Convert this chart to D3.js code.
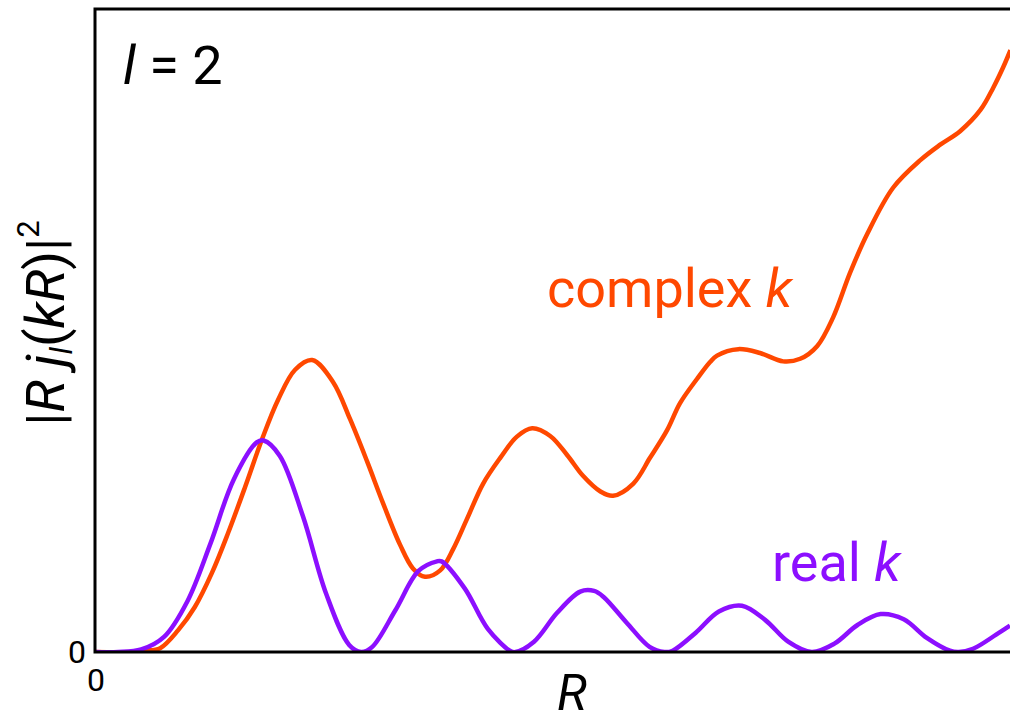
<!DOCTYPE html>
<html>
<head>
<meta charset="utf-8">
<script src="https://cdn.jsdelivr.net/npm/d3@7"></script>
<style>
  body { margin: 0; background: #fff; }
  text { font-family: Roboto, "Noto Sans", sans-serif; }
</style>
</head>
<body>
<svg id="chart" width="1010" height="725"></svg>
<script>
// real k curve
const realR = [0, 0.5, 1, 1.5, 2, 2.5, 3, 3.5, 3.65, 4, 4.5, 5, 5.5, 5.76, 6, 6.5, 7, 7.4, 7.5, 8, 8.5, 9, 9.1,
  9.5, 10, 10.5, 10.8, 11, 11.5, 12, 12.32, 12.5, 13, 13.5, 14, 14.5, 15, 15.51, 16, 16.5, 17, 17.5, 18, 18.5, 18.69, 19, 19.5, 19.8];
const realVal = [0, 0, 0.004, 0.024, 0.079, 0.169, 0.268, 0.326, 0.329, 0.305, 0.211, 0.091, 0.011, 0, 0.008, 0.065, 0.126, 0.141, 0.141, 0.099, 0.036, 0.001, 0,
  0.016, 0.061, 0.094, 0.095, 0.086, 0.046, 0.008, 0, 0.002, 0.030, 0.063, 0.072, 0.050, 0.016, 0, 0.013, 0.042, 0.059, 0.051, 0.022, 0.002, 0, 0.005, 0.027, 0.041];

// complex k curve
const complexR = [0, 0.76, 1.08, 1.41, 1.8, 2.16, 2.53, 2.88, 3.25, 3.61, 3.96, 4.33, 4.7, 5.15, 5.52, 5.89, 6.23, 6.6, 6.88, 7.14,
  7.47, 7.75, 8.05, 8.4, 8.77, 9.13, 9.46, 9.85, 10.22, 10.56, 10.93, 11.21, 11.65, 12.01, 12.38, 12.66, 13.03, 13.31, 13.46,
  13.92, 14.39, 14.89, 15.26, 15.63, 15.97, 16.34, 16.71, 17.27, 17.86, 18.29, 18.72, 19.16, 19.44, 19.65, 19.81];
const complexVal = [0, 0, 0.002, 0.006, 0.034, 0.07, 0.123, 0.185, 0.257, 0.33, 0.392, 0.439, 0.454, 0.42, 0.362, 0.296, 0.232, 0.167, 0.13, 0.117,
  0.127, 0.16, 0.207, 0.262, 0.302, 0.335, 0.348, 0.336, 0.306, 0.274, 0.25, 0.243, 0.262, 0.302, 0.345, 0.387, 0.425, 0.451, 0.461,
  0.471, 0.465, 0.452, 0.456, 0.476, 0.52, 0.59, 0.65, 0.722, 0.765, 0.789, 0.81, 0.843, 0.878, 0.909, 0.936];

const xTicks = [0], yTicks = [0];

const margin = {top: 9, left: 95},
width = 915, height = 643;

const svg = d3.select("#chart");

let x = d3.scaleLinear().domain([0, 19.8]).range([margin.left, margin.left + width]);
let y = d3.scaleLinear().domain([0, 1]).range([margin.top + height, margin.top]);

svg.append("clipPath").attr("id", "plotClip")
  .append("rect")
  .attr("x", margin.left).attr("y", margin.top)
  .attr("width", width).attr("height", height);

let line = d3.line()
  .x(d => x(d[0]))
  .y(d => y(Math.max(0, d[1])))
  .curve(d3.curveCatmullRom.alpha(0.5));

let plot = svg.append("g").attr("clip-path", "url(#plotClip)");

plot.append("path")
  .datum(complexR.map((r, i) => [r, complexVal[i]]))
  .attr("fill", "none")
  .attr("stroke", "#ff4800")
  .attr("stroke-width", 4.5)
  .attr("d", line);

plot.append("path")
  .datum(realR.map((r, i) => [r, realVal[i]]))
  .attr("fill", "none")
  .attr("stroke", "#8c0fff")
  .attr("stroke-width", 4.5)
  .attr("d", line);

// frame (right edge sits just outside the page)
svg.append("rect")
  .attr("x", margin.left).attr("y", margin.top)
  .attr("width", width + 4).attr("height", height)
  .attr("fill", "none")
  .attr("stroke", "#000")
  .attr("stroke-width", 3);

// tick labels only
svg.selectAll(".xtick").data(xTicks).join("text")
  .attr("class", "xtick")
  .attr("x", d => x(d) + 1).attr("y", 691)
  .attr("text-anchor", "middle")
  .attr("font-size", 32)
  .text(d => d);

svg.selectAll(".ytick").data(yTicks).join("text")
  .attr("class", "ytick")
  .attr("x", 86).attr("y", d => y(d) + 11)
  .attr("text-anchor", "end")
  .attr("font-size", 32)
  .text(d => d);

// axis title R
svg.append("text")
  .attr("x", 572).attr("y", 710)
  .attr("text-anchor", "middle")
  .attr("font-size", 50)
  .attr("font-style", "italic")
  .text("R");

// y title |R j_l(kR)|^2
let yt = svg.append("text")
  .attr("transform", "translate(64,323) rotate(-90)")
  .attr("text-anchor", "middle")
  .attr("font-size", 54);
yt.append("tspan").text("|");
yt.append("tspan").attr("font-style", "italic").text("R j");
yt.append("tspan").attr("font-style", "italic").attr("font-size", 31).attr("dy", 8).text("l");
yt.append("tspan").attr("dy", -8).text("(");
yt.append("tspan").attr("font-style", "italic").text("kR");
yt.append("tspan").text(")|");
yt.append("tspan").attr("font-size", 31).attr("dy", -25).text("2");

// l = 2
let lt = svg.append("text")
  .attr("x", 123).attr("y", 84)
  .attr("font-size", 54);
lt.append("tspan").attr("font-style", "italic").text("l");
lt.append("tspan").text(" = 2");

// curve labels
let ct = svg.append("text")
  .attr("x", 547).attr("y", 307)
  .attr("font-size", 54)
  .attr("fill", "#ff4800");
ct.append("tspan").text("complex ");
ct.append("tspan").attr("font-style", "italic").text("k");

let rt = svg.append("text")
  .attr("x", 772).attr("y", 581)
  .attr("font-size", 54)
  .attr("fill", "#8c0fff");
rt.append("tspan").text("real ");
rt.append("tspan").attr("font-style", "italic").text("k");
</script>
</body>
</html>
